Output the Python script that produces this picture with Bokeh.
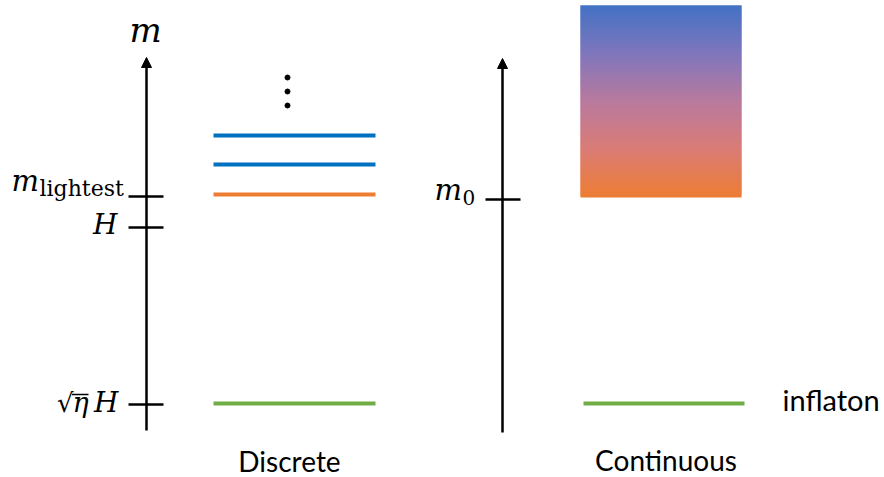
from bokeh.plotting import figure
from bokeh.models import Arrow, NormalHead, Label
from bokeh.embed import file_html
from bokeh.resources import INLINE

# ---- data (mass units, arbitrary schematic scale) ----
discrete_levels = [3.42, 3.13, 2.83]          # tower of discrete states
inflaton_level = 0.74                          # inflaton mass
tick_values_left = [2.81, 2.50, 0.73]          # m_lightest, H, sqrt(eta) H
tick_value_right = [2.78]                      # m_0
continuum_bottom = 2.80
continuum_top = 4.72
dots_levels = [4.00, 3.86, 3.72]
column_labels = ["Discrete", "Continuous"]

# ---- styles ----
BLUE = "#0070C0"
ORANGE = "#ED7D31"
GREEN = "#70AD47"
discrete_colors = [BLUE, BLUE, ORANGE]
grad_stops = [(68, 114, 196), (128, 118, 188), (185, 122, 158), (218, 124, 118), (237, 125, 52)]

W, H = 884, 477
p = figure(width=W, height=H, x_range=(0, W / 100), y_range=(0, H / 100),
           min_border=0, toolbar_location=None, output_backend="svg",
           x_axis_location=None, y_axis_location=None)
p.grid.visible = False
p.outline_line_color = None
p.background_fill_color = "white"

LX, RX = 1.46, 5.02   # axis x positions
DX0, DX1 = 2.13, 3.75
CX0, CX1 = 5.80, 7.41

# axes with arrows
for ax, y0, y1 in [(LX, 0.47, 4.20), (RX, 0.45, 4.19)]:
    p.add_layout(Arrow(end=NormalHead(size=10, fill_color="black", line_color="black"),
                       x_start=ax, y_start=y0, x_end=ax, y_end=y1,
                       line_width=2.5, line_color="black"))

# ticks
p.segment(x0=LX - 0.18, x1=LX + 0.17, y0=tick_values_left, y1=tick_values_left,
          line_width=2.5, line_color="black")
p.segment(x0=RX - 0.17, x1=RX + 0.18, y0=tick_value_right, y1=tick_value_right,
          line_width=2.5, line_color="black")

# discrete levels
p.segment(x0=DX0, x1=DX1, y0=discrete_levels, y1=discrete_levels,
          line_width=4, line_color=discrete_colors)
p.segment(x0=[DX0], x1=[DX1], y0=[inflaton_level], y1=[inflaton_level],
          line_width=4, line_color=GREEN)
p.scatter(x=[2.87] * 3, y=dots_levels, size=5, color="black")

# continuum gradient (overlapping strips to avoid seams)
N = 96
bottoms, tops, cols = [], [], []
h = (continuum_top - continuum_bottom) / N
for i in range(N):
    t = i / (N - 1)  # 0 bottom -> 1 top
    s = (1 - t) * (len(grad_stops) - 1)  # 0 = top stop (blue)
    k = min(int(s), len(grad_stops) - 2)
    f = s - k
    c = tuple(int(round(grad_stops[k][j] * (1 - f) + grad_stops[k + 1][j] * f)) for j in range(3))
    bottoms.append(continuum_bottom + i * h)
    tops.append(min(continuum_bottom + (i + 2) * h, continuum_top))
    cols.append("#%02x%02x%02x" % c)
p.quad(left=CX0, right=CX1, bottom=bottoms, top=tops, fill_color=cols, line_color=None)
p.segment(x0=[CX0 + 0.03], x1=[CX1 + 0.03], y0=[inflaton_level], y1=[inflaton_level],
          line_width=4, line_color=GREEN)

SERIF = "DejaVu Serif"
SHIFT = 0.13  # renderer draws text ~13px below the requested baseline
def lab(x, y, text, size, style="italic", align="left", font=SERIF, shift=SHIFT):
    p.add_layout(Label(x=x, y=y + shift, text=text, text_font=font, text_font_style=style,
                       text_font_size=size, text_align=align, text_baseline="alphabetic",
                       text_color="black"))

# axis titles / tick labels
lab(1.45, 4.35, "m", "34px", align="center")
lab(0.11, 2.84, "m", "29px")
lab(0.39, 2.79, "lightest", "22px", style="normal", shift=0.10)
lab(1.17, 2.40, "H", "28px", align="right")
lab(0.73, 0.62, "√", "26px", style="normal", align="right")
lab(0.72, 0.62, "η", "27px")
lab(1.18, 0.62, "H", "28px", align="right")
p.segment(x0=[0.715], x1=[0.88], y0=[0.83], y1=[0.83], line_width=1.4, line_color="black")
lab(4.34, 2.75, "m", "29px")
lab(4.62, 2.70, "0", "20px", style="normal", shift=0.10)

SANS = "Lato"
lab(2.89, 0.04, column_labels[0], "28px", style="normal", align="center", font=SANS)
lab(6.655, 0.05, column_labels[1], "28px", style="normal", align="center", font=SANS)
lab(7.82, 0.65, "inflaton", "29px", style="normal", font=SANS)

open("out.html", "w").write(file_html(p, INLINE))
